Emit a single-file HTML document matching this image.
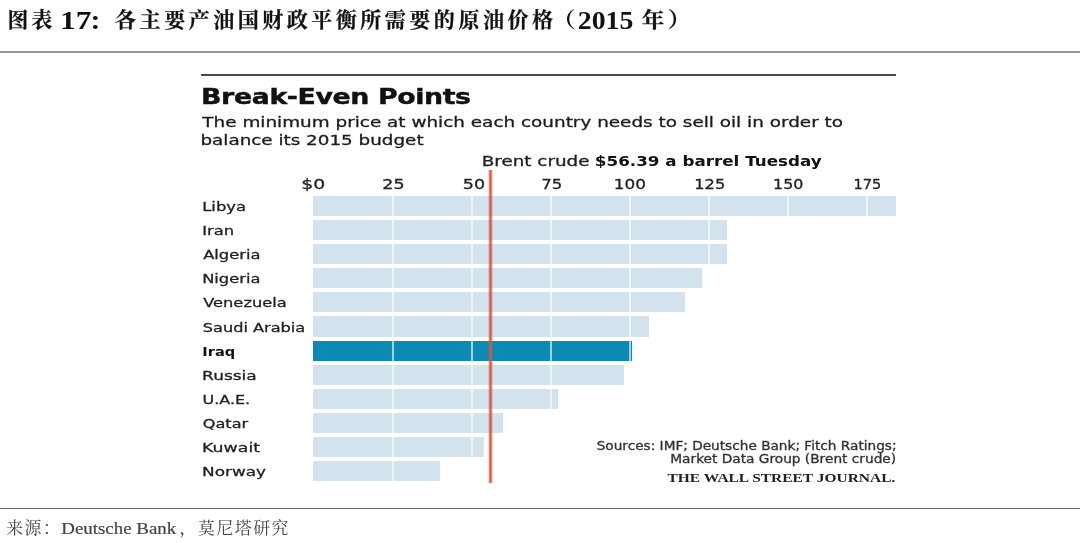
<!DOCTYPE html>
<html lang="zh">
<head>
<meta charset="utf-8">
<title>Break-Even Points</title>
<style>
html,body{margin:0;padding:0;background:#fff;}
body{width:1080px;height:543px;position:relative;overflow:hidden;font-family:"DejaVu Sans","Liberation Sans",sans-serif;filter:blur(0.45px);}
.t{position:absolute;display:block;white-space:nowrap;transform-origin:0 0;line-height:1;}
.ser{font-family:"Liberation Serif","Noto Serif CJK SC",serif;}
.hr{position:absolute;left:0;width:1080px;}
.bar{position:absolute;left:313.4px;height:20.2px;background:#d3e3ee;}
.bar.hi{background:#0b8bb3;}
.grid{position:absolute;width:1.8px;background:#fff;opacity:.62;top:190px;height:300px;}
</style>
</head>
<body>
<div class="hr" style="top:51px;height:1.9px;background:#969696"></div>
<div class="hr" style="left:201.1px;width:695px;top:74px;height:1.8px;background:#4a4a4a"></div>
<div class="bar" style="top:195.60px;width:582.4px"></div>
<div class="bar" style="top:219.75px;width:413.3px"></div>
<div class="bar" style="top:243.90px;width:413.3px"></div>
<div class="bar" style="top:268.05px;width:388.6px"></div>
<div class="bar" style="top:292.20px;width:371.8px"></div>
<div class="bar" style="top:316.35px;width:335.7px"></div>
<div class="bar hi" style="top:340.50px;width:318.8px"></div>
<div class="bar" style="top:364.65px;width:310.2px"></div>
<div class="bar" style="top:388.80px;width:244.8px"></div>
<div class="bar" style="top:412.95px;width:190.0px"></div>
<div class="bar" style="top:437.10px;width:171.0px"></div>
<div class="bar" style="top:461.25px;width:126.8px"></div>
<div class="grid" style="left:392.3px"></div>
<div class="grid" style="left:471.3px"></div>
<div class="grid" style="left:550.3px"></div>
<div class="grid" style="left:629.3px"></div>
<div class="grid" style="left:708.3px"></div>
<div class="grid" style="left:787.3px"></div>
<div class="grid" style="left:866.3px"></div>
<div style="position:absolute;left:488.1px;top:169.5px;width:5px;height:313.2px;background:linear-gradient(to right,rgba(216,86,66,.06),rgba(216,86,66,.5) 24%,#d85642 40%,#d85642 60%,rgba(216,86,66,.5) 76%,rgba(216,86,66,.06))"></div>
<div class="grp title"><span class="t ser" id="t1" style="left:7px;top:10px;font-size:21px;font-weight:bold;color:#111;letter-spacing:3.4px;-webkit-text-stroke:0.25px #111;transform:translateX(0.42px) scaleX(0.9884)">图表 </span><span class="t ser" id="t2" style="left:59px;top:8px;font-size:25px;font-weight:bold;color:#111;transform:translateX(0.98px) scaleX(1.2578)">17</span><span class="t ser" id="t3a" style="left:88px;top:10px;font-size:23px;font-weight:bold;color:#111;transform:translateX(0.21px) scaleX(1.1500)">：</span><span class="t ser" id="t3" style="left:115px;top:10px;font-size:21px;font-weight:bold;color:#111;letter-spacing:3.44px;-webkit-text-stroke:0.25px #111;transform:translateX(0.10px) scaleX(1.0033)">各主要产油国财政平衡所需要的原油价格</span><span class="t ser" id="t3c" style="left:551px;top:10px;font-size:21px;font-weight:bold;color:#111;transform:translateX(0.70px) scaleX(1.1333)">（</span><span class="t ser" id="t4" style="left:577px;top:8px;font-size:25px;font-weight:bold;color:#111;transform:translateX(0.74px) scaleX(1.1130)">2015 </span><span class="t ser" id="t5" style="left:641px;top:10px;font-size:21px;font-weight:bold;color:#111;letter-spacing:3.44px;-webkit-text-stroke:0.25px #111;transform:translateX(0.70px) scaleX(1.0720)">年）</span></div>
<span class="t" id="h1" style="left:201px;top:87px;font-size:20.6px;font-weight:bold;color:#111;-webkit-text-stroke:0.4px #111;letter-spacing:-0.3px;transform:translateX(0.09px) scaleX(1.3010)">Break-Even Points</span>
<div class="grp dek"><span class="t" id="s1" style="left:202px;top:115px;font-size:14.6px;color:#1c1c1c;-webkit-text-stroke:0.3px #1c1c1c;transform:translateX(0.36px) scaleX(1.2598)">The minimum price at which each country needs to sell oil in order to </span><span class="t" id="s2" style="left:200px;top:133px;font-size:14.6px;color:#1c1c1c;-webkit-text-stroke:0.3px #1c1c1c;transform:translateX(0.43px) scaleX(1.2562)">balance its 2015 budget</span></div>
<div class="grp brent"><span class="t" id="br" style="left:481px;top:154px;font-size:14.2px;color:#222;-webkit-text-stroke:0.3px #222;transform:translateX(0.75px) scaleX(1.2908)">Brent crude </span><span class="t" id="br2" style="left:594px;top:154px;font-size:14.2px;font-weight:bold;color:#111;transform:translateX(0.82px) scaleX(1.1806)">$56.39 a barrel Tuesday</span></div>
<div class="grp axis"><span class="t" id="a0" style="left:301px;top:177px;font-size:14.1px;color:#222;-webkit-text-stroke:0.3px #222;transform:translateX(0.30px) scaleX(1.3375)">$0</span><span class="t" id="a1" style="left:382px;top:177px;font-size:14.1px;color:#222;-webkit-text-stroke:0.3px #222;transform:translateX(0.34px) scaleX(1.2438)">25</span><span class="t" id="a2" style="left:462px;top:177px;font-size:14.1px;color:#222;-webkit-text-stroke:0.3px #222;transform:translateX(0.76px) scaleX(1.2437)">50</span><span class="t" id="a3" style="left:541px;top:177px;font-size:14.1px;color:#222;-webkit-text-stroke:0.3px #222;transform:translateX(0.25px) scaleX(1.1746)">75</span><span class="t" id="a4" style="left:613px;top:177px;font-size:14.1px;color:#222;-webkit-text-stroke:0.3px #222;transform:translateX(0.79px) scaleX(1.1960)">100</span><span class="t" id="a5" style="left:694px;top:177px;font-size:14.1px;color:#222;-webkit-text-stroke:0.3px #222;transform:translateX(0.27px) scaleX(1.1546)">125</span><span class="t" id="a6" style="left:773px;top:177px;font-size:14.1px;color:#222;-webkit-text-stroke:0.3px #222;transform:translateX(0.02px) scaleX(1.1273)">150</span><span class="t" id="a7" style="left:853px;top:177px;font-size:14.1px;color:#222;-webkit-text-stroke:0.3px #222;transform:translateX(0.45px) scaleX(1.0309)">175</span></div>
<div class="grp labels"><span class="t" id="l0" style="left:202px;top:200px;font-size:13.1px;color:#222;-webkit-text-stroke:0.3px #222;transform:translateX(0.16px) scaleX(1.2550)">Libya</span><span class="t" id="l1" style="left:202px;top:224px;font-size:13.1px;color:#222;-webkit-text-stroke:0.3px #222;transform:translateX(0.16px) scaleX(1.2511)">Iran</span><span class="t" id="l2" style="left:203px;top:248px;font-size:13.1px;color:#222;-webkit-text-stroke:0.3px #222;transform:translateX(0.19px) scaleX(1.2447)">Algeria</span><span class="t" id="l3" style="left:202px;top:272px;font-size:13.1px;color:#222;-webkit-text-stroke:0.3px #222;transform:translateX(0.17px) scaleX(1.2425)">Nigeria</span><span class="t" id="l4" style="left:203px;top:296px;font-size:13.1px;color:#222;-webkit-text-stroke:0.3px #222;transform:translateX(0.19px) scaleX(1.2424)">Venezuela</span><span class="t" id="l5" style="left:202px;top:321px;font-size:13.1px;color:#222;-webkit-text-stroke:0.3px #222;transform:translateX(0.80px) scaleX(1.2331)">Saudi Arabia</span><span class="t" id="l6" style="left:202px;top:345px;font-size:13.1px;font-weight:bold;color:#111;transform:translateX(0.32px) scaleX(1.1156)">Iraq</span><span class="t" id="l7" style="left:202px;top:369px;font-size:13.1px;color:#222;-webkit-text-stroke:0.3px #222;transform:translateX(0.11px) scaleX(1.2975)">Russia</span><span class="t" id="l8" style="left:202px;top:393px;font-size:13.1px;color:#222;-webkit-text-stroke:0.3px #222;transform:translateX(0.42px) scaleX(1.2218)">U.A.E.</span><span class="t" id="l9" style="left:202px;top:417px;font-size:13.1px;color:#222;-webkit-text-stroke:0.3px #222;transform:translateX(0.80px) scaleX(1.2303)">Qatar</span><span class="t" id="l10" style="left:202px;top:441px;font-size:13.1px;color:#222;-webkit-text-stroke:0.3px #222;transform:translateX(0.08px) scaleX(1.3254)">Kuwait</span><span class="t" id="l11" style="left:202px;top:465px;font-size:13.1px;color:#222;-webkit-text-stroke:0.3px #222;transform:translateX(0.12px) scaleX(1.2875)">Norway</span></div>
<div class="grp source"><span class="t" id="src1" style="left:596px;top:441px;font-size:11.4px;color:#333;-webkit-text-stroke:0.3px #333;transform:translateX(0.68px) scaleX(1.1984)">Sources: IMF; Deutsche Bank; Fitch Ratings; </span><span class="t" id="src2" style="left:670px;top:454px;font-size:11.4px;color:#333;-webkit-text-stroke:0.3px #333;transform:translateX(0.30px) scaleX(1.2027)">Market Data Group (Brent crude)</span></div>
<span class="t ser" id="wsj" style="left:667px;top:472px;font-size:12.2px;font-weight:bold;color:#222;transform:translateX(0.41px) scaleX(1.2682)">THE WALL STREET JOURNAL.</span>
<div class="grp foot"><span class="t ser" id="f1" style="left:6px;top:521px;font-size:16.5px;color:#444;letter-spacing:1.5px;transform:translateX(0.17px) scaleX(1.0228)">来源：</span><span class="t ser" id="f2" style="left:61px;top:520px;font-size:17px;color:#444;-webkit-text-stroke:0.2px #444;transform:translateX(0.31px) scaleX(1.1110)">Deutsche Bank</span><span class="t ser" id="f3" style="left:178px;top:521px;font-size:16.5px;color:#444;transform:translateX(0.98px) scaleX(1.1500)">，</span><span class="t ser" id="f4" style="left:198px;top:521px;font-size:16.5px;color:#444;letter-spacing:1.5px;transform:translateX(0.02px) scaleX(1.0214)">莫尼塔研究</span></div>
<div class="hr" style="top:507.8px;height:1.6px;background:#6a6a6a"></div>
</body>
</html>
